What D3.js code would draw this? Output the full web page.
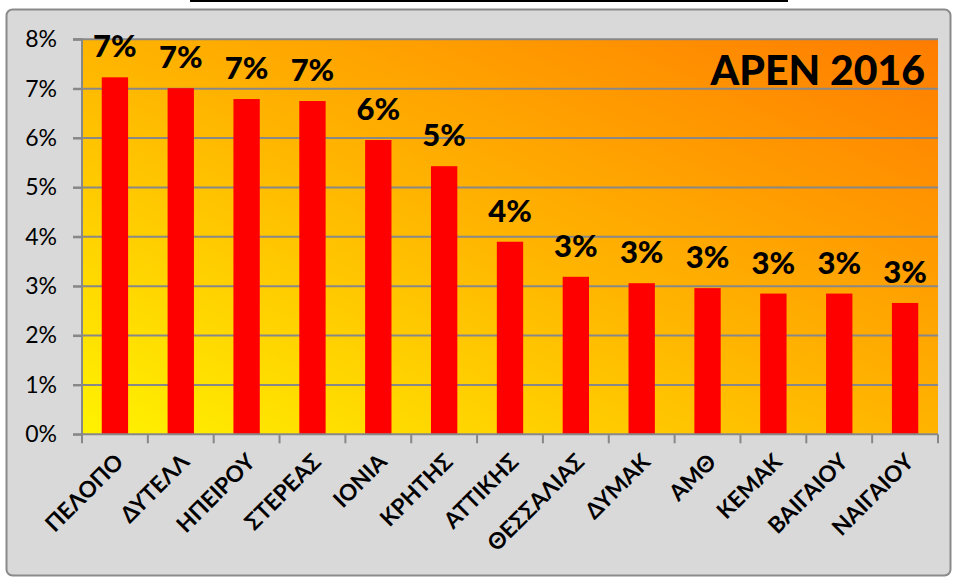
<!DOCTYPE html>
<html><head><meta charset="utf-8">
<script src="https://cdn.jsdelivr.net/npm/d3@7"></script>
<style>html,body{margin:0;padding:0;background:#fff;}svg{display:block;}</style>
</head><body>
<svg id="c" width="956" height="578"></svg>
<script>
const categories = ["ΠΕΛΟΠΟ","ΔΥΤΕΛΛ","ΗΠΕΙΡΟΥ","ΣΤΕΡΕΑΣ","ΙΟΝΙΑ","ΚΡΗΤΗΣ","ΑΤΤΙΚΗΣ","ΘΕΣΣΑΛΙΑΣ","ΔΥΜΑΚ","ΑΜΘ","ΚΕΜΑΚ","ΒΑΙΓΑΙΟΥ","ΝΑΙΓΑΙΟΥ"];
const values = [7.23, 7.01, 6.79, 6.75, 5.96, 5.43, 3.90, 3.19, 3.06, 2.96, 2.85, 2.85, 2.66];
const yTicks = [0,1,2,3,4,5,6,7,8];
const title = "APEN 2016";

const svg = d3.select("#c");
const m = {left:82, right:938, top:39.3, bottom:434.3};

svg.append("line").attr("x1",190).attr("x2",788).attr("y1",1).attr("y2",1).attr("stroke","#000").attr("stroke-width",2);
svg.append("rect").attr("x",6.5).attr("y",9.5).attr("width",944).attr("height",566).attr("rx",6)
  .attr("fill","#d9d9d9").attr("stroke","#8a8a8a").attr("stroke-width",2);

const defs = svg.append("defs");
const g = defs.append("linearGradient").attr("id","bg").attr("x1",0).attr("y1",1).attr("x2",1).attr("y2",0);
g.append("stop").attr("offset","0%").attr("stop-color","#fff200");
g.append("stop").attr("offset","50%").attr("stop-color","#ffb400");
g.append("stop").attr("offset","100%").attr("stop-color","#ff7c00");

const x = d3.scaleBand().domain(categories).range([m.left,m.right]).paddingInner(0.6).paddingOuter(0.3);
const y = d3.scaleLinear().domain([0,8]).range([m.bottom,m.top]);

svg.append("rect").attr("x",m.left).attr("y",m.top).attr("width",m.right-m.left).attr("height",m.bottom-m.top).attr("fill","url(#bg)");

// gridlines
svg.append("g").selectAll("line").data(yTicks.filter(d=>d>0)).join("line")
  .attr("x1",m.left-9).attr("x2",m.right).attr("y1",d=>y(d)).attr("y2",d=>y(d))
  .attr("stroke","#888").attr("stroke-width",2);

// bars
svg.append("g").selectAll("rect").data(values).join("rect")
  .attr("x",(d,i)=>x(categories[i])).attr("width",x.bandwidth())
  .attr("y",d=>y(d)).attr("height",d=>y(0)-y(d)).attr("fill","#ff0000");

// y axis
const ya = d3.axisLeft(y).tickValues(yTicks).tickFormat(d=>d+"%").tickSize(9).tickPadding(16);
const yg = svg.append("g").attr("transform",`translate(${m.left},0)`).call(ya);
yg.select(".domain").attr("stroke","#888").attr("stroke-width",2).attr("d",`M-9,${m.top}H0V${m.bottom}H-9`);
yg.selectAll(".tick line").attr("stroke","#888").attr("stroke-width",2);
yg.selectAll(".tick text").attr("font-family","Lato, 'Open Sans', sans-serif").attr("font-size",23).attr("fill","#000");

// x axis: ticks at boundaries
const bounds = d3.range(categories.length+1).map(i=>m.left + i*(m.right-m.left)/categories.length);
svg.append("line").attr("x1",m.left).attr("x2",m.right).attr("y1",m.bottom).attr("y2",m.bottom).attr("stroke","#888").attr("stroke-width",2);
svg.append("g").selectAll("line").data(bounds).join("line")
  .attr("x1",d=>d).attr("x2",d=>d).attr("y1",m.bottom).attr("y2",m.bottom+9).attr("stroke","#888").attr("stroke-width",2);

// x labels
svg.append("g").selectAll("text").data(categories).join("text")
  .attr("transform",d=>`translate(${x(d)+x.bandwidth()/2+10},${m.bottom+29}) rotate(-45)`)
  .attr("text-anchor","end").attr("font-family","Lato, 'Open Sans', sans-serif").attr("font-weight","bold")
  .attr("font-size",22.5).attr("fill","#000").text(d=>d);

// value labels
svg.append("g").selectAll("text").data(values).join("text")
  .attr("x",(d,i)=>x(categories[i])+x.bandwidth()/2).attr("y",d=>y(d)-20)
  .attr("text-anchor","middle").attr("font-family","Lato, 'Open Sans', sans-serif").attr("font-weight","900")
  .attr("font-size",31).attr("fill","#000").text(d=>Math.round(d)+"%");

// title
svg.append("text").attr("x",925).attr("y",85).attr("text-anchor","end")
  .attr("font-family","Lato, 'Open Sans', sans-serif").attr("font-weight","900").attr("font-size",41).attr("fill","#000").text(title);
</script>
</body></html>
